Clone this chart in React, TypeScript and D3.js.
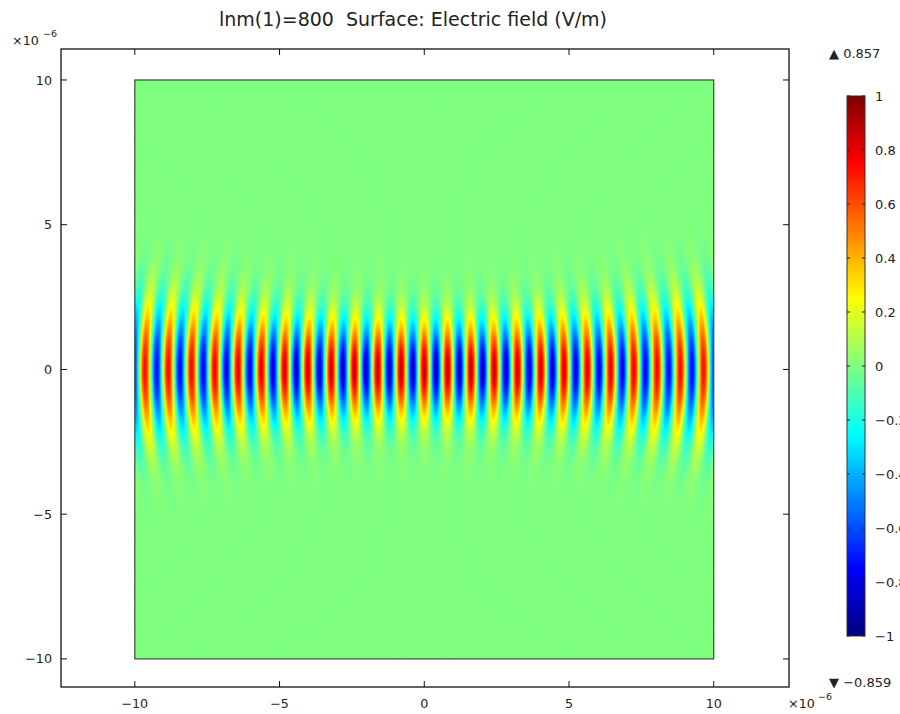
import React, { useEffect, useState } from 'react';
import * as d3 from 'd3';

// ---- data ----
const xTicks = [-10, -5, 0, 5, 10];
const yTicks = [-10, -5, 0, 5, 10];
const xTickLabels = ['−10', '−5', '0', '5', '10'];
const yTickLabels = ['−10', '−5', '0', '5', '10'];
const cbTicks = [1, 0.8, 0.6, 0.4, 0.2, 0, -0.2, -0.4, -0.6, -0.8, -1];
const cbLabels = ['1', '0.8', '0.6', '0.4', '0.2', '0', '−0.2', '−0.4', '−0.6', '−0.8', '−1'];
const jetValues = [-1, -0.75, -0.25, 0.25, 0.75, 1];
const jetColors = ['#000080', '#0000ff', '#00ffff', '#ffff00', '#ff0000', '#800000'];
const geomX = [-10, 10]; // µm
const geomY = [-10, 10]; // µm
const wavelengthUm = 0.8; // lnm(1)=800 nm
const beamWaistUm = 1.6;
const peakField = 0.857;
const maxLabel = '0.857';
const minLabel = '−0.859';
const titleText = 'lnm(1)=800  Surface: Electric field (V/m)';

const W = 900;
const H = 714;
const FONT = 'DejaVu Sans';

const xScale = d3.scaleLinear().domain([-12.55, 12.6]).range([61, 789]);
const yScale = d3.scaleLinear().domain([-10.97, 11.07]).range([687, 49]);
const color = d3.scaleLinear<string>().domain(jetValues).range(jetColors).clamp(true);
const cbTop = 96;
const cbBottom = 636;
const cbLeft = 847;
const cbRight = 865;
const cbScale = d3.scaleLinear().domain([-1, 1]).range([cbBottom, cbTop]);

function field(x: number, y: number): number {
  const k = (2 * Math.PI) / wavelengthUm;
  const zR = (Math.PI * beamWaistUm * beamWaistUm) / wavelengthUm;
  const w = beamWaistUm * Math.sqrt(1 + (x / zR) ** 2);
  const invR = x / (x * x + zR * zR);
  const gouy = 0.5 * Math.atan(x / zR);
  return (
    peakField *
    Math.sqrt(beamWaistUm / w) *
    Math.exp(-(y * y) / (w * w)) *
    Math.cos(k * x + (k * y * y * invR) / 2 - gouy)
  );
}

export default function App() {
  const px0 = xScale(geomX[0]);
  const px1 = xScale(geomX[1]);
  const py0 = yScale(geomY[1]);
  const py1 = yScale(geomY[0]);
  const [url, setUrl] = useState<string>('');

  useEffect(() => {
    const cw = Math.round(px1 - px0);
    const ch = Math.round(py1 - py0);
    const canvas = document.createElement('canvas');
    canvas.width = cw;
    canvas.height = ch;
    const ctx = canvas.getContext('2d');
    if (!ctx) return;
    const img = ctx.createImageData(cw, ch);
    for (let j = 0; j < ch; j++) {
      const y = geomY[1] - ((j + 0.5) / ch) * (geomY[1] - geomY[0]);
      for (let i = 0; i < cw; i++) {
        const x = geomX[0] + ((i + 0.5) / cw) * (geomX[1] - geomX[0]);
        const c = d3.rgb(color(field(x, y)));
        const idx = (j * cw + i) * 4;
        img.data[idx] = c.r;
        img.data[idx + 1] = c.g;
        img.data[idx + 2] = c.b;
        img.data[idx + 3] = 255;
      }
    }
    ctx.putImageData(img, 0, 0);
    setUrl(canvas.toDataURL());
  }, []);

  const [fx0, fx1] = xScale.range();
  const [fy0, fy1] = yScale.range(); // bottom, top
  const tickLen = 6;

  return (
    <svg
      width={W}
      height={H}
      style={{ position: 'absolute', left: 0, top: 0, background: '#fff' }}
      fontFamily={FONT}
    >
      <defs>
        <linearGradient id="jet" x1="0" y1="1" x2="0" y2="0">
          {jetValues.map((v, i) => (
            <stop key={i} offset={(v + 1) / 2} stopColor={jetColors[i]} />
          ))}
        </linearGradient>
      </defs>
      <rect x={0} y={0} width={W} height={H} fill="#fff" />

      {/* title */}
      <text
        x={413}
        y={26}
        fontSize={19}
        textAnchor="middle"
        fill="#222"
        style={{ whiteSpace: 'pre' }}
        xmlSpace="preserve"
      >
        {titleText}
      </text>

      {/* field surface */}
      <rect x={px0} y={py0} width={px1 - px0} height={py1 - py0} fill={color(0)} />
      {url && (
        <image
          href={url}
          x={px0}
          y={py0}
          width={px1 - px0}
          height={py1 - py0}
          preserveAspectRatio="none"
        />
      )}
      <rect
        x={px0}
        y={py0}
        width={px1 - px0}
        height={py1 - py0}
        fill="none"
        stroke="#3a4a3a"
        strokeWidth={1.2}
      />

      {/* axes frame */}
      <rect
        x={fx0}
        y={fy1}
        width={fx1 - fx0}
        height={fy0 - fy1}
        fill="none"
        stroke="#111"
        strokeWidth={1.3}
      />
      {xTicks.map((t, i) => (
        <g key={'xt' + i}>
          <line x1={xScale(t)} x2={xScale(t)} y1={fy0} y2={fy0 - tickLen} stroke="#111" />
          <line x1={xScale(t)} x2={xScale(t)} y1={fy1} y2={fy1 + tickLen} stroke="#111" />
          <text x={xScale(t)} y={708} fontSize={12.7} textAnchor="middle" fill="#222">
            {xTickLabels[i]}
          </text>
        </g>
      ))}
      {yTicks.map((t, i) => (
        <g key={'yt' + i}>
          <line x1={fx0} x2={fx0 + tickLen} y1={yScale(t)} y2={yScale(t)} stroke="#111" />
          <line x1={fx1} x2={fx1 - tickLen} y1={yScale(t)} y2={yScale(t)} stroke="#111" />
          <text
            x={52}
            y={yScale(t)}
            dy="0.36em"
            fontSize={12.7}
            textAnchor="end"
            fill="#222"
          >
            {yTickLabels[i]}
          </text>
        </g>
      ))}

      {/* axis multipliers */}
      <text x={12} y={45} fontSize={12.7} fill="#222">
        ×10
      </text>
      <text x={43} y={37} fontSize={9.5} fill="#222">
        −6
      </text>
      <text x={788} y={708} fontSize={12.7} fill="#222">
        ×10
      </text>
      <text x={818} y={700} fontSize={9.5} fill="#222">
        −6
      </text>

      {/* colorbar */}
      <rect
        x={cbLeft}
        y={cbTop}
        width={cbRight - cbLeft}
        height={cbBottom - cbTop}
        fill="url(#jet)"
        stroke="#333"
        strokeWidth={1}
      />
      {cbTicks.map((t, i) => (
        <g key={'cb' + i}>
          <line x1={cbLeft} x2={cbLeft + 3} y1={cbScale(t)} y2={cbScale(t)} stroke="#222" />
          <line x1={cbRight} x2={cbRight - 3} y1={cbScale(t)} y2={cbScale(t)} stroke="#222" />
          <text x={875} y={cbScale(t)} dy="0.36em" fontSize={13} fill="#222">
            {cbLabels[i]}
          </text>
        </g>
      ))}
      <text x={829} y={58} fontSize={13} fill="#222">
        {'▲ ' + maxLabel}
      </text>
      <text x={829} y={687} fontSize={13} fill="#222">
        {'▼ ' + minLabel}
      </text>
    </svg>
  );
}
